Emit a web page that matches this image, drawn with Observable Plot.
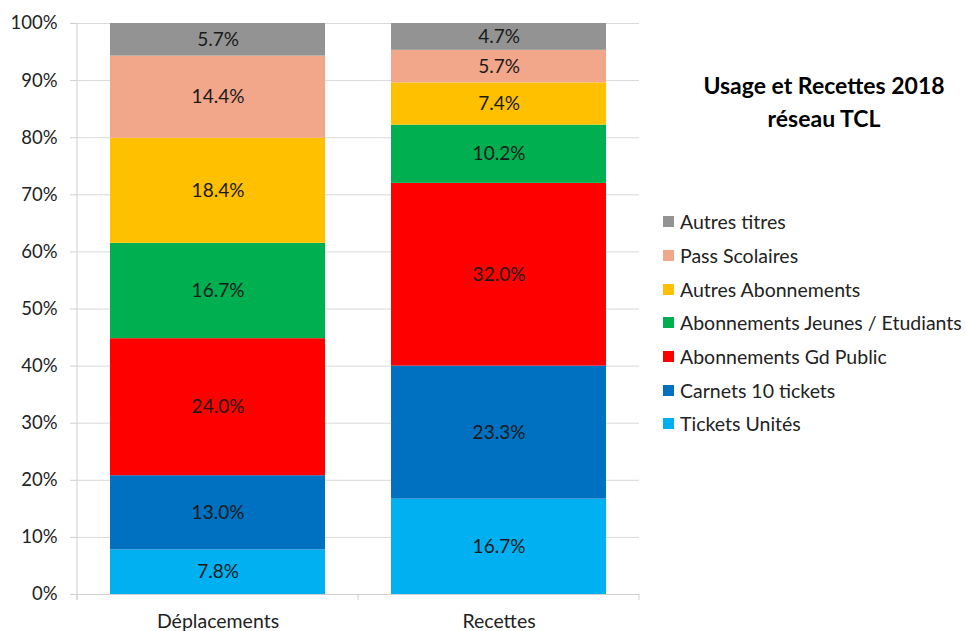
<!DOCTYPE html>
<html>
<head>
<meta charset="utf-8">
<script src="https://cdn.jsdelivr.net/npm/d3@7"></script>
<script src="https://cdn.jsdelivr.net/npm/@observablehq/plot@0.6"></script>
<style>
  body { margin: 0; background: #fff; font-family: Lato, sans-serif; }
  #wrap { position: relative; width: 966px; height: 631px; }
  #title { position: absolute; left: 674px; width: 300px; top: 69px; text-align: center; font: bold 23px Lato, sans-serif; line-height: 33px; color: #000; }
  #legend { position: absolute; left: 663px; top: 205px; font: 19.5px Lato, sans-serif; color: #222; }
  #legend div { height: 33.7px; display: flex; align-items: center; white-space: nowrap; }
  #legend span.sw { width: 11px; height: 11px; margin-right: 6px; display: inline-block; }
</style>
</head>
<body>
<div id="wrap">
  <div id="chart"></div>
  <div id="title">Usage et Recettes 2018<br>réseau TCL</div>
  <div id="legend"></div>
</div>
<script>
const categories = ["Déplacements", "Recettes"];
const series = ["Tickets Unités", "Carnets 10 tickets", "Abonnements Gd Public", "Abonnements Jeunes / Etudiants", "Autres Abonnements", "Pass Scolaires", "Autres titres"];
const colors = ["#00B0F0", "#0070C0", "#FF0000", "#00B050", "#FFC000", "#F2A68A", "#939393"];
const deplacements = [7.8, 13.0, 24.0, 16.7, 18.4, 14.4, 5.7];
const recettes = [16.7, 23.3, 32.0, 10.2, 7.4, 5.7, 4.7];
const yTicks = [0, 0.1, 0.2, 0.3, 0.4, 0.5, 0.6, 0.7, 0.8, 0.9, 1.0];

const values = [deplacements, recettes];
const data = [];
categories.forEach((c, ci) => series.forEach((s, si) => data.push({cat: c, serie: s, value: values[ci][si] / 100})));

const chart = Plot.plot({
  width: 966,
  height: 631,
  marginLeft: 77,
  marginRight: 327,
  marginTop: 23,
  marginBottom: 37,
  style: {fontFamily: "Lato, sans-serif", fontSize: "17px", color: "#222"},
  x: {domain: categories, paddingInner: 0.235, paddingOuter: 0.1175, label: null},
  y: {domain: [0, 1], label: null},
  color: {domain: series, range: colors},
  marks: [
    Plot.gridY(yTicks, {stroke: "#D9D9D9", strokeOpacity: 1, strokeWidth: 1}),
    Plot.barY(data, Plot.stackY({x: "cat", y: "value", fill: "serie", order: series})),
    Plot.text(data, Plot.stackY({x: "cat", y: "value", z: "serie", order: series, text: d => (d.value * 100).toFixed(1) + "%", fill: "#1a1a1a", fontSize: 19})),
    Plot.axisY(yTicks, {tickFormat: d3.format(".0%"), tickSize: 7, tickPadding: 13, stroke: "#D0D0D0", fill: "#222", fontSize: 18.5, label: null}),
    Plot.ruleY([0], {stroke: "#D0D0D0"}),
    Plot.axisX({tickSize: 0, tickPadding: 20, fontSize: 19.5, fill: "#222", label: null})
  ]
});
document.getElementById("chart").appendChild(chart);

// left axis line & category separator ticks
const svg = d3.select(chart);
const xs = chart.scale("x");
const ys = chart.scale("y");
const x0 = 77, x1 = 966 - 327, yb = ys.apply(0), yt = ys.apply(1);
svg.append("line").attr("x1", x0).attr("x2", x0).attr("y1", yt).attr("y2", yb + 6).attr("stroke", "#D0D0D0");
const sep = [x0, (xs.apply(categories[0]) + xs.bandwidth + xs.apply(categories[1])) / 2, x1];
sep.forEach(x => svg.append("line").attr("x1", x).attr("x2", x).attr("y1", yb).attr("y2", yb + 6).attr("stroke", "#D0D0D0"));

const legend = document.getElementById("legend");
series.slice().reverse().forEach((s) => {
  const i = series.indexOf(s);
  const row = document.createElement("div");
  row.innerHTML = `<span class="sw" style="background:${colors[i]}"></span>${s}`;
  legend.appendChild(row);
});
</script>
</body>
</html>
